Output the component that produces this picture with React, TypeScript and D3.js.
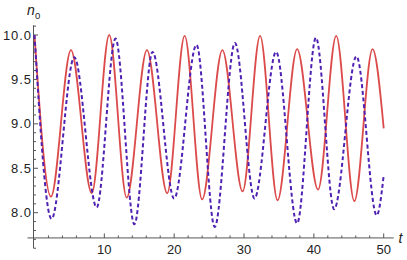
import React from 'react';
import * as d3 from 'd3';

// peaks and troughs, t and n0
const redT = [0, 2.35, 5.22, 8.2, 10.7, 13.2, 16.1, 19.0, 21.5, 24.0, 26.9, 29.8, 32.3, 34.8, 37.6, 40.6, 43.2, 45.8, 48.4, 50];
const redN = [10.0, 8.18, 9.83, 8.22, 10.0, 8.17, 9.83, 8.22, 9.99, 8.15, 9.83, 8.24, 9.99, 8.14, 9.84, 8.26, 9.99, 8.13, 9.84, 8.95];

const blueT = [0, 2.44, 5.7, 8.9, 11.6, 14.3, 16.9, 20.0, 23.2, 25.8, 28.7, 31.5, 34.6, 37.6, 40.3, 42.9, 46.1, 49.0, 50];
const blueN = [10.0, 7.93, 9.75, 8.06, 9.96, 7.87, 9.81, 8.16, 9.89, 7.84, 9.91, 8.16, 9.81, 7.88, 9.97, 8.04, 9.76, 7.97, 8.42];

const xTicks = [10, 20, 30, 40, 50];
const yTicks = [8.0, 8.5, 9.0, 9.5, 10.0];

const W = 407;
const H = 260;

const App: React.FC = () => {
  const x = d3.scaleLinear().domain([0, 50]).range([34.5, 383.7]);
  const y = d3.scaleLinear().domain([8.0, 10.0]).range([212.7, 35]);

  const xAxisAt = 7.716;
  const yAxisX = 33.5;
  const xMinor = d3.range(2, 51, 2).filter(v => v % 10 !== 0);
  const yMinor = d3.range(76, 102, 1).filter(v => v % 5 !== 0).map(v => v / 10);

  const line = d3.line<[number, number]>()
    .x(d => x(d[0]))
    .y(d => y(d[1]))
    .curve(d3.curveMonotoneX);

  const red = line(redT.map((t, i) => [t, redN[i]])) || '';
  const blue = line(blueT.map((t, i) => [t, blueN[i]])) || '';

  const axisColor = '#555';
  const font = "'Liberation Sans', Arial, sans-serif";
  const x0 = y(xAxisAt);

  return (
    <svg width={W} height={H} style={{ position: 'absolute', left: 0, top: 0 }} fontFamily={font}>
      <rect width={W} height={H} fill="white" />
      {/* axes */}
      <line x1={yAxisX} x2={yAxisX} y1={y(7.6)} y2={y(10.11)} stroke={axisColor} strokeWidth={1} />
      <line x1={x(-1)} x2={x(50) + 10} y1={x0} y2={x0} stroke={axisColor} strokeWidth={1} />

      {xTicks.map(t => (
        <g key={'xt' + t}>
          <line x1={x(t)} x2={x(t)} y1={x0} y2={x0 - 4.5} stroke={axisColor} />
          <text x={x(t)} y={x0 + 16.5} textAnchor="middle" fontSize={13} fill="#222">{t}</text>
        </g>
      ))}
      {xMinor.map(t => (
        <line key={'xm' + t} x1={x(t)} x2={x(t)} y1={x0} y2={x0 - 2.5} stroke={axisColor} />
      ))}

      {yTicks.map(v => (
        <g key={'yt' + v}>
          <line x1={yAxisX} x2={yAxisX + 4.5} y1={y(v)} y2={y(v)} stroke={axisColor} />
          <text x={yAxisX - 1.6} y={y(v) + 4.6} textAnchor="end" fontSize={13} letterSpacing={0.9} fill="#222">{v.toFixed(1)}</text>
        </g>
      ))}
      {yMinor.map(v => (
        <line key={'ym' + v} x1={yAxisX} x2={yAxisX + 2.5} y1={y(v)} y2={y(v)} stroke={axisColor} />
      ))}

      {/* curves */}
      <path d={red} fill="none" stroke="#DC4B4B" strokeWidth={1.8} />
      <path d={blue} fill="none" stroke="#4F21B3" strokeWidth={2} strokeDasharray="4 2.7" />

      {/* axis labels */}
      <text x={27} y={15} fontSize={14} fontStyle="italic" fill="#222">n</text>
      <text x={35} y={18.5} fontSize={9.5} fill="#222">0</text>
      <text x={398.5} y={243} fontSize={14} fontStyle="italic" fill="#222">t</text>
    </svg>
  );
};

export default App;
